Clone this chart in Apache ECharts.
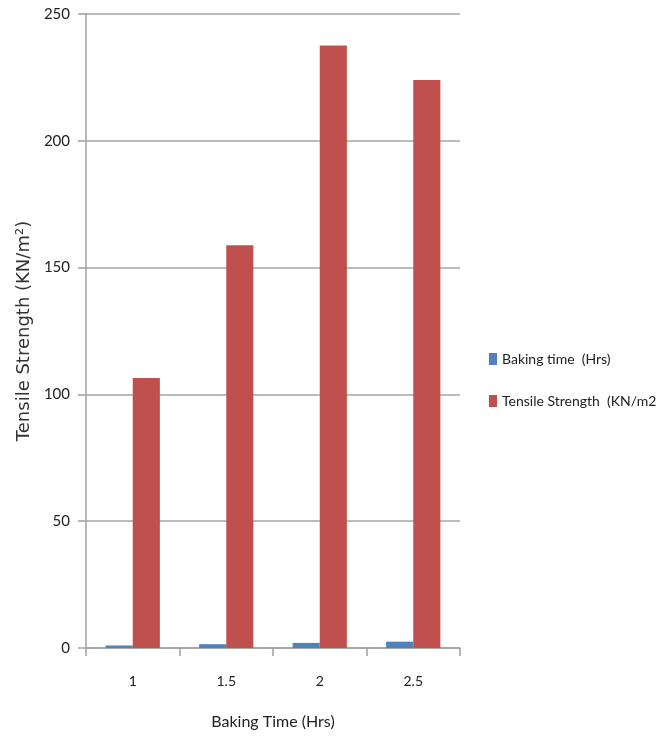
<!DOCTYPE html>
<html>
<head>
<meta charset="utf-8">
<script src="https://cdn.jsdelivr.net/npm/echarts@6/dist/echarts.min.js"></script>
<style>
  html, body { margin: 0; padding: 0; background: #fff; }
  #chart { width: 663px; height: 740px; }
</style>
</head>
<body>
<div id="chart"></div>
<script>
// Baking time categories and measured values
const categories = ['1', '1.5', '2', '2.5'];
const bakingTime = [1, 1.5, 2, 2.5];
const tensileStrength = [106.5, 158.8, 237.6, 224];
const yTicks = { min: 0, max: 250, interval: 50 };

const FONT = 'Lato, "Open Sans", sans-serif';

const chart = echarts.init(document.getElementById('chart'));
chart.setOption({
  animation: false,
  backgroundColor: '#ffffff',
  grid: { left: 86, right: 203, top: 14, bottom: 92, containLabel: false },
  legend: {
    orient: 'vertical',
    left: 484,
    top: 347,
    itemWidth: 8,
    itemHeight: 12,
    itemGap: 28,
    icon: 'rect',
    textStyle: { fontFamily: FONT, fontSize: 14, color: '#222' },
    data: ['Baking time  (Hrs)', 'Tensile Strength  (KN/m2']
  },
  xAxis: {
    type: 'category',
    data: categories,
    name: 'Baking Time (Hrs)',
    nameLocation: 'middle',
    nameGap: 66,
    nameTextStyle: { fontFamily: FONT, fontSize: 16, color: '#222' },
    axisLine: { lineStyle: { color: '#a0a0a0', width: 1.5 } },
    axisTick: { show: true, alignWithLabel: false, length: 8, lineStyle: { color: '#a0a0a0', width: 1.5 } },
    axisLabel: { fontFamily: FONT, fontSize: 14, color: '#222', margin: 26 }
  },
  yAxis: {
    type: 'value',
    min: yTicks.min,
    max: yTicks.max,
    interval: yTicks.interval,
    name: 'Tensile Strength (KN/m²)',
    nameLocation: 'middle',
    nameGap: 48,
    nameRotate: 90,
    nameTextStyle: { fontFamily: '"DejaVu Sans", sans-serif', fontSize: 18, color: '#333' },
    axisLine: { show: true, lineStyle: { color: '#a0a0a0', width: 1.5 } },
    axisTick: { show: true, length: 8, inside: false, lineStyle: { color: '#a0a0a0', width: 1.5 } },
    splitLine: { lineStyle: { color: '#a6a6a6', width: 1.5 } },
    axisLabel: { fontFamily: FONT, fontSize: 15, color: '#222', margin: 16 }
  },
  series: [
    {
      name: 'Baking time  (Hrs)',
      type: 'bar',
      data: bakingTime,
      barGap: '0%',
      barCategoryGap: '42%',
      itemStyle: { color: '#4f81bd' }
    },
    {
      name: 'Tensile Strength  (KN/m2',
      type: 'bar',
      data: tensileStrength,
      barGap: '0%',
      barCategoryGap: '42%',
      itemStyle: { color: '#c0504d' }
    }
  ]
});
</script>
</body>
</html>
